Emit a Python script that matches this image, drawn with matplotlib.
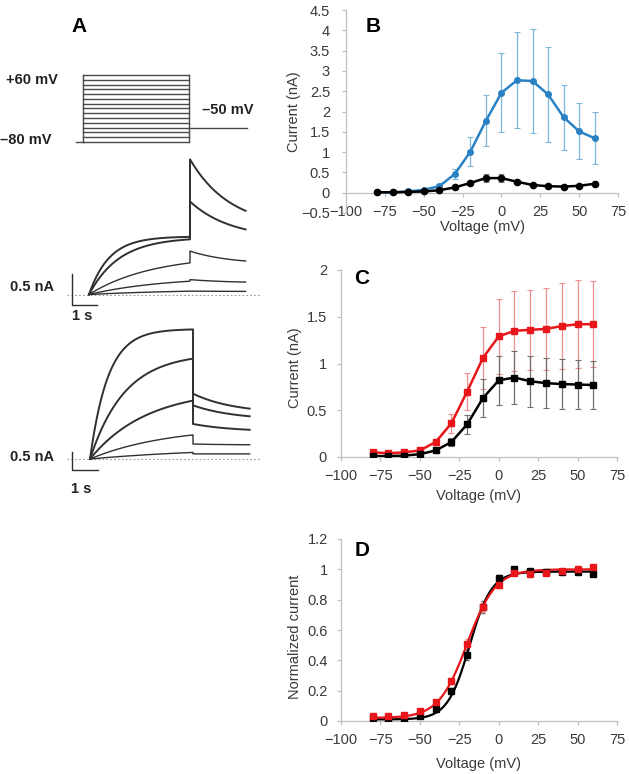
import numpy as np
import matplotlib.pyplot as plt

plt.rcParams['font.family'] = ['Liberation Sans', 'DejaVu Sans']

W, H = 629, 774

# ---------------- data ----------------
voltage = [-80, -70, -60, -50, -40, -30, -20, -10, 0, 10, 20, 30, 40, 50, 60]

# B: peak currents (nA)
b_blue = [0.01, 0.01, 0.03, 0.07, 0.16, 0.46, 1.01, 1.77, 2.46, 2.77, 2.75, 2.42, 1.86, 1.51, 1.34]
b_blue_err = [0.01, 0.01, 0.02, 0.03, 0.06, 0.13, 0.35, 0.63, 0.97, 1.18, 1.28, 1.17, 0.8, 0.69, 0.64]
b_black = [0.01, 0.01, 0.02, 0.03, 0.06, 0.13, 0.24, 0.36, 0.36, 0.27, 0.19, 0.16, 0.15, 0.17, 0.22]
b_black_err = [0.01, 0.01, 0.01, 0.01, 0.02, 0.03, 0.05, 0.09, 0.1, 0.05, 0.03, 0.03, 0.03, 0.03, 0.03]

# C: steady-state currents (nA)
c_red = [0.05, 0.04, 0.05, 0.07, 0.16, 0.36, 0.70, 1.06, 1.29, 1.35, 1.36, 1.37, 1.40, 1.42, 1.42]
c_red_err = [0.01, 0.01, 0.01, 0.02, 0.03, 0.1, 0.2, 0.33, 0.40, 0.43, 0.43, 0.44, 0.46, 0.47, 0.46]
c_black = [0.01, 0.01, 0.015, 0.03, 0.07, 0.16, 0.35, 0.63, 0.82, 0.85, 0.81, 0.79, 0.78, 0.775, 0.77]
c_black_err = [0.01, 0.01, 0.01, 0.01, 0.02, 0.04, 0.1, 0.2, 0.26, 0.28, 0.27, 0.27, 0.27, 0.26, 0.26]

# D: normalized currents and Boltzmann fit parameters (V1/2, k, bottom, top)
d_red = [0.03, 0.03, 0.037, 0.064, 0.126, 0.263, 0.508, 0.75, 0.90, 0.975, 0.97, 0.975, 0.99, 1.0, 1.015]
d_red_err = [0.005, 0.005, 0.005, 0.01, 0.015, 0.02, 0.03, 0.03, 0.02, 0.01, 0.01, 0.01, 0.01, 0.01, 0.01]
d_black = [0.02, 0.01, 0.015, 0.03, 0.082, 0.197, 0.435, 0.75, 0.94, 1.0, 0.99, 0.98, 0.98, 0.98, 0.97]
d_black_err = [0.005, 0.005, 0.005, 0.01, 0.015, 0.02, 0.03, 0.04, 0.02, 0.01, 0.01, 0.01, 0.01, 0.01, 0.01]
fit_red = (-20.0, 9.0, 0.02, 1.0)
fit_black = (-18.5, 7.0, 0.01, 0.985)

# A: voltage protocol (mV, s)
hold_mv = -80
test_mv = list(range(-80, 70, 10))
tail_mv = -50
step_s, tail_end_s, pre_s = 4.0, 6.2, -0.27

# A: current traces (nA) - top set
tr1_step_end = [0.93, 0.89, 0.51, 0.215, 0.054]
tr1_tau = [0.8, 1.2, 2.5, 3.0, 4.0]
tr1_tail_start = [2.18, 1.50, 0.70, 0.24, 0.054]
tr1_tail_end = [1.35, 1.05, 0.54, 0.20, 0.05]
# A: current traces (nA) - bottom set
tr2_step_end = [3.55, 2.75, 1.60, 0.66, 0.18]
tr2_tau = [0.7, 1.35, 2.2, 3.0, 5.0]
tr2_tail_start = [1.79, 1.47, 0.96, 0.41, 0.14]
tr2_tail_end = [1.38, 1.17, 0.80, 0.39, 0.14]
tail_tau = 1.6

AX_GRAY = '#bfbfbf'
TXT = '#3a3a3a'

fig = plt.figure(figsize=(W / 100, H / 100), dpi=100)


def px_axes(l, t, r, b):
    return fig.add_axes([l / W, 1 - b / H, (r - l) / W, (b - t) / H])


def ftext(x, y, s, **kw):
    fig.text(x / W, 1 - y / H, s, **kw)


def scaled_axes(box, x0_px, xs, y0_px, ys):
    l, t, r, b = box
    ax = px_axes(l, t, r, b)
    ax.set_xlim((l - x0_px) / xs, (r - x0_px) / xs)
    ax.set_ylim((y0_px - b) / ys, (y0_px - t) / ys)
    ax.axis('off')
    return ax


def fmt(v):
    s = '%g' % round(v, 2)
    return s.replace('-', '\u2212')


def excel_axes(ax, ylo, yhi, ystep, ypad=6):
    ax.set_xlim(-100, 75)
    ax.set_ylim(ylo, yhi)
    ax.spines[['top', 'right']].set_visible(False)
    for s in ('left', 'bottom'):
        ax.spines[s].set_color(AX_GRAY)
        ax.spines[s].set_linewidth(0.9)
    ax.spines['bottom'].set_position(('data', 0))
    xt = np.arange(-100, 76, 25)
    ax.set_xticks(xt)
    ax.set_xticklabels([fmt(v) for v in xt])
    yt = np.round(np.arange(ylo, yhi + ystep / 2, ystep), 2)
    ax.set_yticks(yt)
    ax.set_yticklabels([fmt(v) for v in yt])
    ax.tick_params(colors=AX_GRAY, labelcolor=TXT, labelsize=10.5, length=3, width=0.9)
    ax.tick_params(axis='x', pad=6)
    ax.tick_params(axis='y', pad=ypad)
    ax.set_xlabel('Voltage (mV)', fontsize=10.5, color=TXT)


# ---------------- B ----------------
axB = px_axes(346, 10, 618, 213)
excel_axes(axB, -0.5, 4.5, 0.5, ypad=8.5)
axB.errorbar(voltage, b_blue, yerr=b_blue_err, fmt='none', ecolor='#7db6db', elinewidth=0.9,
             capsize=2, capthick=0.8, zorder=1)
axB.errorbar(voltage, b_black, yerr=b_black_err, fmt='none', ecolor='#888888', elinewidth=0.9,
             capsize=2, capthick=0.8, zorder=1)
axB.plot(voltage, b_blue, color='#2a82c5', lw=1.8, marker='o', ms=4, zorder=3)
axB.plot(voltage, b_black, color='black', lw=1.8, marker='o', ms=4.5, zorder=3)
axB.set_ylabel('Current (nA)', fontsize=10.5, color=TXT)
axB.yaxis.set_label_coords(-0.165, 0.5)
axB.xaxis.set_label_coords(0.5, -0.035)

# ---------------- C ----------------
axC = px_axes(341, 270, 617, 457)
excel_axes(axC, 0, 2, 0.5, ypad=7)
axC.errorbar(voltage, c_red, yerr=c_red_err, fmt='none', ecolor='#f08c8c', elinewidth=0.9,
             capsize=2, capthick=0.8, zorder=1)
axC.errorbar(voltage, c_black, yerr=c_black_err, fmt='none', ecolor='#707070', elinewidth=0.9,
             capsize=2, capthick=0.8, zorder=1)
axC.plot(voltage, c_red, color='#e8161b', lw=1.8, marker='s', ms=4.5, zorder=3)
axC.plot(voltage, c_black, color='black', lw=1.8, marker='s', ms=4.5, zorder=3)
axC.set_ylabel('Current (nA)', fontsize=10.5, color=TXT)
axC.yaxis.set_label_coords(-0.14, 0.48)
axC.xaxis.set_label_coords(0.5, -0.17)

# ---------------- D ----------------
axD = px_axes(341, 539, 617, 721)
excel_axes(axD, 0, 1.2, 0.2, ypad=6.5)
vfit = np.linspace(-80, 60, 300)
for (vh, k, lo, hi), col in ((fit_black, 'black'), (fit_red, '#e8161b')):
    axD.plot(vfit, lo + (hi - lo) / (1 + np.exp((vh - vfit) / k)), color=col, lw=1.6, zorder=2)
axD.errorbar(voltage, d_black, yerr=d_black_err, fmt='none', ecolor='#606060', elinewidth=0.8,
             capsize=1.5, zorder=1)
axD.errorbar(voltage, d_red, yerr=d_red_err, fmt='none', ecolor='#f08c8c', elinewidth=0.8,
             capsize=1.5, zorder=1)
axD.plot(voltage, d_black, ls='none', color='black', marker='s', ms=4.5, zorder=3)
axD.plot(voltage, d_red, ls='none', color='#e8161b', marker='s', ms=4.5, zorder=4)
axD.set_ylabel('Normalized current', fontsize=10.5, color=TXT)
axD.yaxis.set_label_coords(-0.14, 0.46)
axD.xaxis.set_label_coords(0.5, -0.2)

# ---------------- A: protocol ----------------
axS = scaled_axes((0, 55, 262, 150), 83, 26.5, 103.7, 0.4786)
sc = '#4a4a4a'
for v in test_mv:
    axS.plot([0, step_s], [v, v], color=sc, lw=1.0)
axS.plot([0, 0], [hold_mv, max(test_mv)], color=sc, lw=1.0)
axS.plot([step_s, step_s], [hold_mv, max(test_mv)], color=sc, lw=1.0)
axS.plot([pre_s, 0], [hold_mv, hold_mv], color=sc, lw=1.0)
axS.plot([step_s, tail_end_s], [tail_mv, tail_mv], color=sc, lw=1.0)


# ---------------- A: traces ----------------
def draw_traces(ax, step_end, taus, tail_start, tail_end):
    t1 = np.linspace(0, step_s, 300)
    t2 = np.linspace(step_s, tail_end_s, 200)
    for a_end, tau, ts, te in zip(step_end, taus, tail_start, tail_end):
        amp = a_end / (1 - np.exp(-step_s / tau))
        i1 = amp * (1 - np.exp(-t1 / tau))
        e = np.exp(-(tail_end_s - step_s) / tail_tau)
        inf = (te - ts * e) / (1 - e)
        i2 = inf + (ts - inf) * np.exp(-(t2 - step_s) / tail_tau)
        lw = 1.4 if a_end > 0.8 else 1.0
        ax.plot(np.r_[t1, t2], np.r_[i1, i2], color='#303030', lw=lw)


axT1 = scaled_axes((55, 148, 262, 316), 89, 25.25, 294.5, 62)
axT1.plot([-0.87, 6.77], [0, 0], color='#9a9a9a', lw=0.8, ls=(0, (1.5, 2)))
draw_traces(axT1, tr1_step_end, tr1_tau, tr1_tail_start, tr1_tail_end)
axT1.plot([-0.67, -0.67, 0.33], [0.33, -0.17, -0.17], color='#303030', lw=1.0)

axT2 = scaled_axes((55, 318, 262, 480), 90, 25.75, 459, 36.5)
axT2.plot([-0.89, 6.6], [0, 0], color='#9a9a9a', lw=0.8, ls=(0, (1.5, 2)))
draw_traces(axT2, tr2_step_end, tr2_tau, tr2_tail_start, tr2_tail_end)
axT2.plot([-0.70, -0.70, 0.30], [0.20, -0.30, -0.30], color='#303030', lw=1.0)

# ---------------- texts ----------------
lab = dict(fontsize=10.5, fontweight='bold', color='#222222', va='center')
ftext(6, 80, '+60 mV', ha='left', **lab)
ftext(0, 140, '\u201380 mV', ha='left', **lab)
ftext(202, 110, '\u201350 mV', ha='left', **lab)
ftext(54, 287, '0.5 nA', ha='right', **lab)
ftext(82, 316, '1 s', ha='center', **lab)
ftext(54, 457, '0.5 nA', ha='right', **lab)
ftext(81, 489, '1 s', ha='center', **lab)

letter = dict(fontsize=15, fontweight='bold', color='black', va='center', ha='left')
ftext(71, 27, 'A', **letter)
ftext(366, 26, 'B', **letter)
ftext(354, 278, 'C', **letter)
ftext(355, 551, 'D', **letter)

fig.savefig('out.png', dpi=100)
